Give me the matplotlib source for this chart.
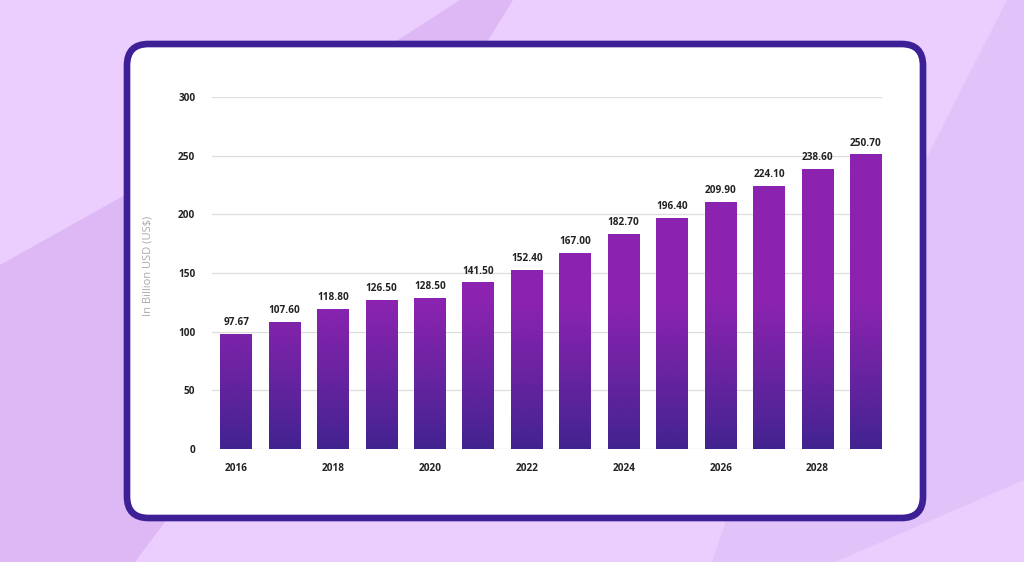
import numpy as np
import matplotlib
matplotlib.use("Agg")
import matplotlib.pyplot as plt
from matplotlib.patches import Polygon, FancyBboxPatch
from matplotlib.colors import to_rgb

years = [2016, 2017, 2018, 2019, 2020, 2021, 2022, 2023, 2024, 2025, 2026, 2027, 2028, 2029]
values = [97.67, 107.60, 118.80, 126.50, 128.50, 141.50, 152.40, 167.00, 182.70, 196.40, 209.90, 224.10, 238.60, 250.70]
value_labels = ["97.67", "107.60", "118.80", "126.50", "128.50", "141.50", "152.40",
                "167.00", "182.70", "196.40", "209.90", "224.10", "238.60", "250.70"]
y_ticks = [0, 50, 100, 150, 200, 250, 300]
x_tick_years = [2016, 2018, 2020, 2022, 2024, 2026, 2028]

W, H = 1024, 562
BG = "#EBCEFE"
BG_DARK = "#DDB8F4"
BG_MID = "#E1C3F9"
FRAME = "#3D1F96"
TOP_C = np.array(to_rgb("#8B23B0"))
BOT_C = np.array(to_rgb("#40238F"))

plt.rcParams['font.family'] = ['Open Sans', 'DejaVu Sans']

fig = plt.figure(figsize=(W / 100, H / 100), dpi=100)
fig.patch.set_facecolor(BG)

def px(points):
    # pixel coords (top-left origin) -> figure fraction
    return [(x / W, 1 - y / H) for x, y in points]

# background shapes (partly hidden by the card)
shapes = [
    ([(395, 42), (460, 0), (513, 0), (487, 42)], BG_DARK),
    ([(0, 265), (300, 97), (300, 480), (196, 480), (135, 562), (0, 562)], BG_DARK),
    ([(1007, 0), (1024, 0), (1024, 470), (900, 523), (900, 210)], BG_MID),
    ([(900, 523), (1024, 470), (1024, 480), (835, 562), (712, 562), (740, 480), (900, 480)], BG_MID),
]
for pts, c in shapes:
    fig.patches.append(Polygon(px(pts), closed=True, transform=fig.transFigure,
                               facecolor=c, edgecolor="none", zorder=0))

# white card with dark border
x0, y0, x1, y1 = 127, 44, 923, 518
card = FancyBboxPatch((x0 / W, 1 - y1 / H), (x1 - x0) / W, (y1 - y0) / H,
                      boxstyle="round,pad=0,rounding_size=0.021",
                      transform=fig.transFigure, facecolor="white",
                      edgecolor=FRAME, linewidth=4.8, zorder=1,
                      mutation_aspect=W / H)
fig.patches.append(card)

ax = fig.add_axes([212 / W, 1 - 449 / H, (882 - 212) / W, 352 / H])
ax.set_facecolor("none")
ax.set_zorder(2)

x = np.arange(len(years))
bars = ax.bar(x, values, width=0.66, color="none", zorder=3)

# vertical gradient for each bar (colour tied to the value level)
for b in bars:
    bx, bw, bh = b.get_x(), b.get_width(), b.get_height()
    lv = np.linspace(0, bh, 200)
    t = np.clip(lv / 125.0, 0, 1) ** 0.9
    cols = BOT_C[None, :] * (1 - t[:, None]) + TOP_C[None, :] * t[:, None]
    img = np.repeat(cols[:, None, :], 2, axis=1)
    ax.imshow(img, extent=(bx, bx + bw, 0, bh), origin="lower",
              aspect="auto", zorder=3, interpolation="bilinear")

for xi, v, lab in zip(x, values, value_labels):
    ax.annotate(lab, (xi, v), xytext=(0, 4.5), textcoords="offset points",
                ha="center", va="bottom", fontsize=7.2, fontweight="bold",
                color="#222222", zorder=4)

ax.set_xlim(-0.5, len(years) - 0.67)
ax.set_ylim(0, 300)
ax.set_yticks(y_ticks)
ax.set_yticklabels([str(t) for t in y_ticks])
ax.set_xticks([years.index(y) for y in x_tick_years])
ax.set_xticklabels([str(y) for y in x_tick_years])
ax.tick_params(axis="y", length=0, pad=12, labelsize=7.2, labelcolor="#222222")
ax.tick_params(axis="x", length=0, pad=10, labelsize=7.2, labelcolor="#222222")
for lbl in ax.get_xticklabels() + ax.get_yticklabels():
    lbl.set_fontweight("bold")
ax.yaxis.grid(True, color="#DDDDDD", linewidth=0.9, zorder=0)
ax.set_axisbelow(True)
for s in ax.spines.values():
    s.set_visible(False)

ax.set_ylabel("In Billion USD (US$)", fontsize=8, color="#AAAAAA")
ax.yaxis.set_label_coords(-0.087, 0.52)

fig.savefig("out.png", dpi=100, facecolor=fig.get_facecolor())
